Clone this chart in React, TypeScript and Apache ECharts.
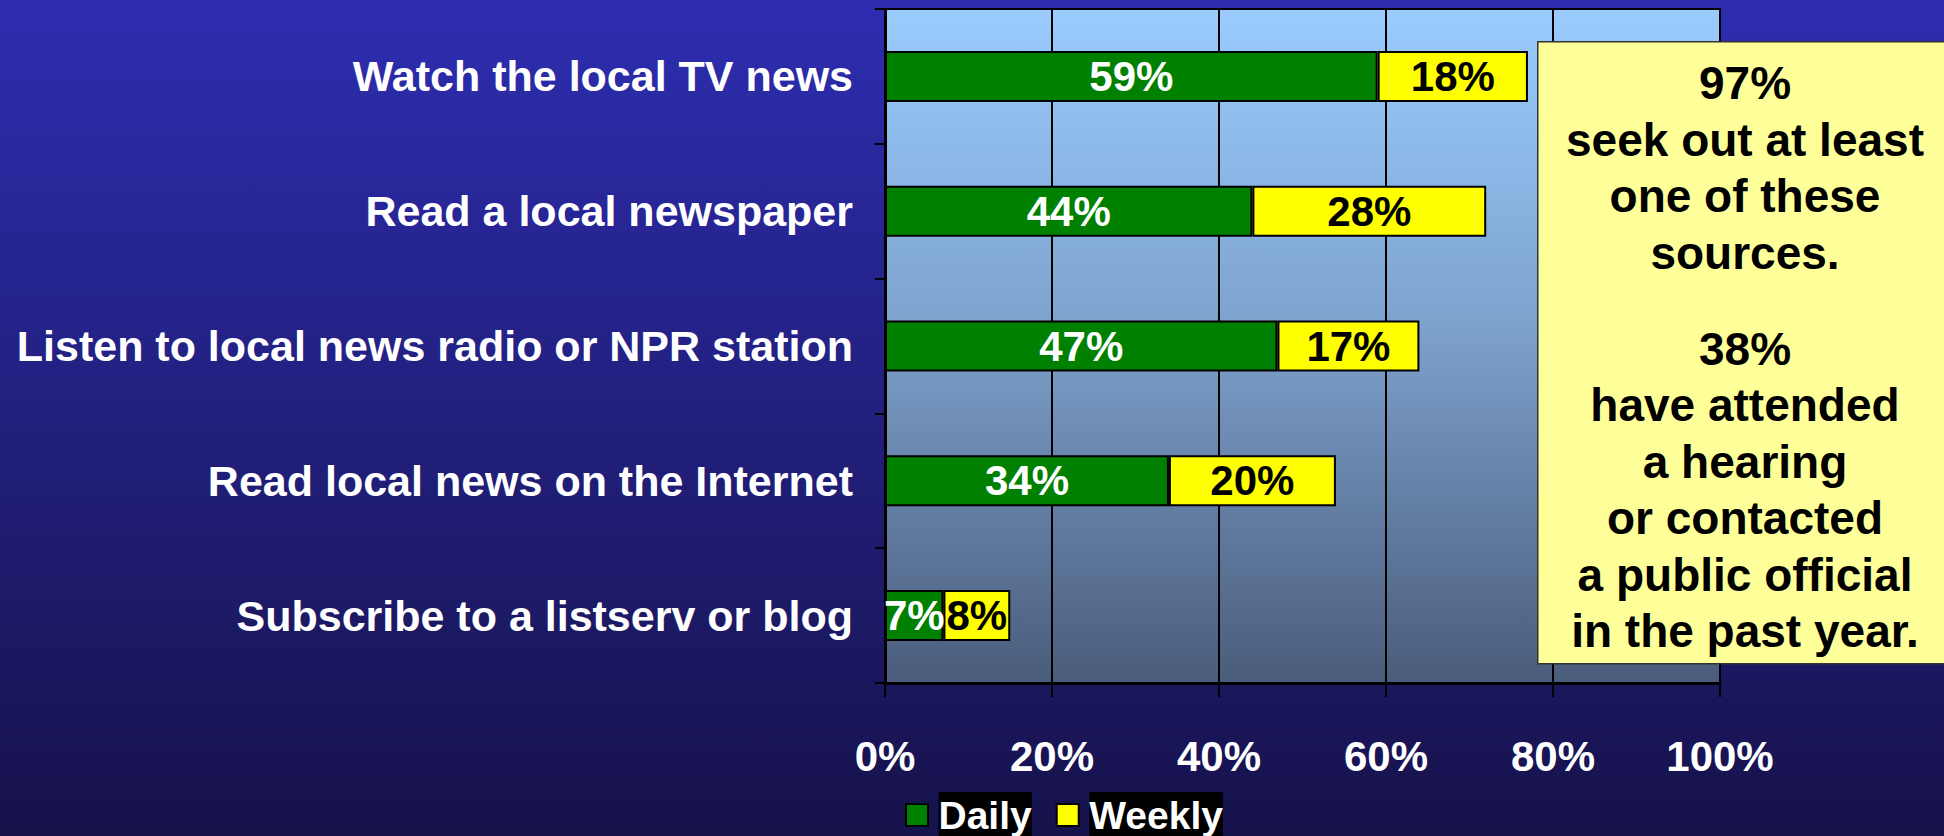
import React, { useEffect, useRef } from "react";
import * as echarts from "echarts";

const categories = [
  "Watch the local TV news",
  "Read a local newspaper",
  "Listen to local news radio or NPR station",
  "Read local news on the Internet",
  "Subscribe to a listserv or blog",
];
const dailyValues = [59, 44, 47, 34, 7];
const weeklyValues = [18, 28, 17, 20, 8];
const seriesNames = ["Daily", "Weekly"];
const xTicks = { min: 0, max: 100, interval: 20 };
const noteBlock1 = ["97%", "seek out at least", "one of these", "sources."];
const noteBlock2 = [
  "38%",
  "have attended",
  "a hearing",
  "or contacted",
  "a public official",
  "in the past year.",
];

const FONT = "'Liberation Sans', Arial, Helvetica, sans-serif";

export default function App() {
  const ref = useRef<HTMLDivElement>(null);
  useEffect(() => {
    if (!ref.current) return;
    const chart = echarts.init(ref.current, null, { renderer: "svg" });
    const option: any = {
      animation: false,
      backgroundColor: {
        type: "linear",
        x: 0,
        y: 0,
        x2: 0,
        y2: 1,
        colorStops: [
          { offset: 0, color: "#2E2DB0" },
          { offset: 1, color: "#16124B" },
        ],
      },
      textStyle: { fontFamily: FONT },
      grid: {
        left: 885,
        right: 224,
        top: 9,
        bottom: 153,
        show: true,
        backgroundColor: {
          type: "linear",
          x: 0,
          y: 0,
          x2: 0,
          y2: 1,
          colorStops: [
            { offset: 0, color: "#9ACCFE" },
            { offset: 0.45, color: "#7FA4D0" },
            { offset: 1, color: "#4A5C7B" },
          ],
        },
        borderColor: "#000",
        borderWidth: 2,
      },
      legend: {
        data: seriesNames,
        left: 905,
        top: 792,
        padding: 0,
        itemWidth: 33,
        itemHeight: 22,
        itemGap: 24,
        icon: "path://M0,0H10V10H0Z",
        textStyle: {
          color: "#fff",
          fontSize: 39,
          fontWeight: "bold",
          fontFamily: FONT,
          backgroundColor: "#000",
          lineHeight: 46,
          padding: 0,
        },
      },
      xAxis: {
        type: "value",
        min: xTicks.min,
        max: xTicks.max,
        interval: xTicks.interval,
        axisLine: { show: true, lineStyle: { color: "#000", width: 3 } },
        axisTick: { show: true, length: 14, lineStyle: { color: "#000", width: 2 } },
        splitLine: { show: true, lineStyle: { color: "#000", width: 2 } },
        axisLabel: {
          formatter: "{value}%",
          color: "#fff",
          fontSize: 42,
          fontWeight: "bold",
          fontFamily: FONT,
          margin: 52,
        },
      },
      yAxis: {
        type: "category",
        inverse: true,
        data: categories,
        axisLine: { show: true, lineStyle: { color: "#000", width: 3 } },
        axisTick: { show: true, length: 10, lineStyle: { color: "#000", width: 2 } },
        axisLabel: {
          color: "#fff",
          fontSize: 43,
          fontWeight: "bold",
          fontFamily: FONT,
          margin: 32,
        },
      },
      series: [
        {
          name: seriesNames[0],
          type: "bar",
          stack: "total",
          data: dailyValues,
          barWidth: 51,
          itemStyle: { color: "#008000", borderColor: "#000", borderWidth: 2 },
          label: {
            show: true,
            position: "inside",
            formatter: "{c}%",
            color: "#fff",
            fontSize: 42,
            fontWeight: "bold",
            fontFamily: FONT,
          },
        },
        {
          name: seriesNames[1],
          type: "bar",
          stack: "total",
          data: weeklyValues,
          barWidth: 51,
          itemStyle: { color: "#FFFF00", borderColor: "#000", borderWidth: 2 },
          label: {
            show: true,
            position: "inside",
            formatter: "{c}%",
            color: "#000",
            fontSize: 42,
            fontWeight: "bold",
            fontFamily: FONT,
          },
        },
      ],
      graphic: [
        {
          type: "rect",
          left: 1537,
          top: 41,
          shape: { width: 420, height: 622 },
          style: { fill: "#FFFF99", stroke: "#333", lineWidth: 1.5 },
          z: 10,
        },
        {
          type: "text",
          x: 1745,
          y: 168,
          z: 11,
          style: {
            text: noteBlock1.join("\n"),
            fill: "#000",
            font: `bold 46px ${FONT}`,
            lineHeight: 56.5,
            align: "center",
            verticalAlign: "middle",
          },
        },
        {
          type: "text",
          x: 1745,
          y: 490,
          z: 11,
          style: {
            text: noteBlock2.join("\n"),
            fill: "#000",
            font: `bold 46px ${FONT}`,
            lineHeight: 56.5,
            align: "center",
            verticalAlign: "middle",
          },
        },
      ],
    };
    chart.setOption(option);
    return () => chart.dispose();
  }, []);
  return (
    <div
      ref={ref}
      style={{ position: "fixed", left: 0, top: 0, width: 1944, height: 836 }}
    />
  );
}
